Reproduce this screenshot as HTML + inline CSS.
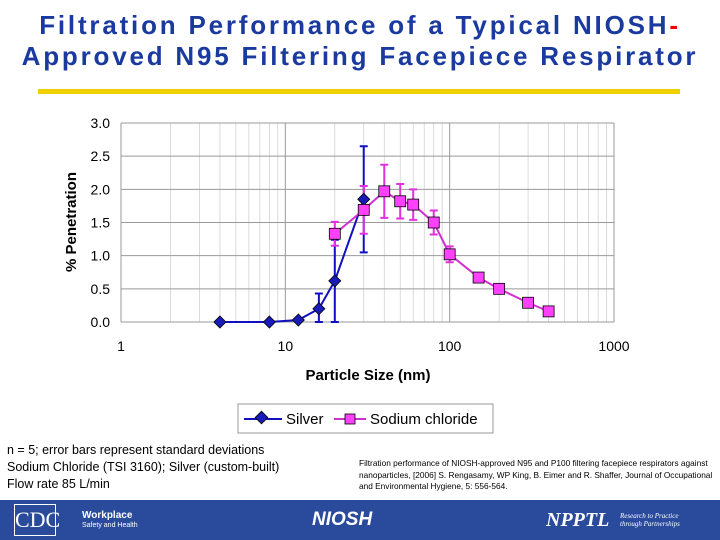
<!DOCTYPE html>
<html><head><meta charset="utf-8"><style>
body{margin:0;width:720px;height:540px;overflow:hidden;background:#fff;font-family:"Liberation Sans",Arial,sans-serif;position:relative}
.t{position:absolute;left:0;width:720px;text-align:center;font-weight:bold;font-size:26px;letter-spacing:2.8px;color:#1a3aa0;line-height:31px}
.abs{position:absolute}
</style></head><body>
<div class="t" style="top:10px">Filtration Performance of a Typical NIOSH<span style="color:#e00">-</span><br>Approved N95 Filtering Facepiece Respirator</div>
<div class="abs" style="left:38px;top:89px;width:642px;height:5px;background:#f0d000"></div>
<svg class="abs" style="left:0;top:0" width="720" height="500">
<g id="grid"></g><g id="series"></g>
<text x="76" y="222" transform="rotate(-90 76 222)" text-anchor="middle" font-size="15" font-weight="bold" font-family="Liberation Sans">% Penetration</text>
<text x="368" y="380" text-anchor="middle" font-size="15" font-weight="bold" font-family="Liberation Sans">Particle Size (nm)</text>
<g>
<rect x="238" y="404" width="255" height="29" fill="#fff" stroke="#999"/>
<line x1="244" y1="419" x2="282" y2="419" stroke="#1010c0" stroke-width="2"/>
<rect x="257" y="413" width="9" height="9" transform="rotate(45 261.5 417.5)" fill="#1a1ab8" stroke="#000" stroke-width="0.8"/>
<text x="286" y="424" font-size="15" font-family="Liberation Sans">Silver</text>
<line x1="334" y1="419" x2="366" y2="419" stroke="#d030d0" stroke-width="2"/>
<rect x="345" y="414" width="10" height="10" fill="#ff40ff" stroke="#000" stroke-width="0.8"/>
<text x="370" y="424" font-size="15" font-family="Liberation Sans">Sodium chloride</text>
</g>
</svg>
<div class="abs" style="left:7px;top:442px;font-size:12.5px;line-height:17px">n = 5; error bars represent standard deviations<br>Sodium Chloride (TSI 3160); Silver (custom-built)<br>Flow rate 85 L/min</div>
<div class="abs" style="left:359px;top:458px;width:358px;font-size:8.3px;line-height:11.5px">Filtration performance of NIOSH-approved N95 and P100 filtering facepiece respirators against nanoparticles, [2006] S. Rengasamy, WP King, B. Eimer and R. Shaffer, Journal of Occupational and Environmental Hygiene, 5: 556-564.</div>
<div class="abs" style="left:0;top:500px;width:720px;height:40px;background:#2a4a9c;color:#fff">
<div class="abs" style="left:14px;top:4px;width:40px;height:30px;border:1px solid #fff;font-family:'Liberation Serif';font-size:22px;line-height:30px;text-align:center">CDC</div>
<div class="abs" style="left:82px;top:11px;font-size:10px;font-weight:bold;line-height:9px">Workplace<br><span style="font-size:7px;font-weight:normal">Safety and Health</span></div>
<div class="abs" style="left:312px;top:9px;font-size:19px;font-weight:bold;font-style:italic">NIOSH</div>
<div class="abs" style="left:546px;top:9px;font-family:'Liberation Serif';font-size:20px;font-style:italic;font-weight:bold">NPPTL</div>
<div class="abs" style="left:620px;top:12px;font-family:'Liberation Serif';font-size:7px;font-style:italic;line-height:8px">Research to Practice<br>through Partnerships</div>
</div>
<script>
const silverX=[4,8,12,16,20,30];
const silverY=[0,0,0.03,0.2,0.62,1.85];
const silverErr=[0,0,0.02,0.23,0.62,0.8];
const naclX=[20,30,40,50,60,80,100,150,200,300,400];
const naclY=[1.33,1.69,1.97,1.82,1.77,1.5,1.02,0.67,0.5,0.29,0.16];
const naclErr=[0.18,0.36,0.4,0.26,0.23,0.18,0.12,0.05,0.05,0.02,0.02];
const yTicks=["0.0","0.5","1.0","1.5","2.0","2.5","3.0"];
const xTicks=[1,10,100,1000];
const X0=121,X1=614,Y0=322,Y1=123;
const sx=v=>X0+(X1-X0)*Math.log10(v)/3;
const sy=v=>Y0-(Y0-Y1)*v/3;
const NS="http://www.w3.org/2000/svg";
function mk(p,t,a){const e=document.createElementNS(NS,t);for(const k in a)e.setAttribute(k,a[k]);p.appendChild(e);return e;}
const g=document.getElementById('grid'),s=document.getElementById('series');
for(let d=1;d<1000;d*=10)for(let m=2;m<10;m++){const l=mk(g,'line',{x1:sx(d*m),x2:sx(d*m),y1:Y1,y2:Y0,stroke:'#ccc','stroke-width':0.7});

}
yTicks.forEach(t=>{const v=+t;const l=mk(g,'line',{x1:X0,x2:X1,y1:sy(v),y2:sy(v),stroke:'#999','stroke-width':1});


const tx=mk(g,'text',{x:X0-11,y:sy(v)+5,'text-anchor':'end','font-size':14,'font-family':'Liberation Sans'});tx.textContent=t;

});
xTicks.forEach(v=>{const l=mk(g,'line',{x1:sx(v),x2:sx(v),y1:Y1,y2:Y0,stroke:'#999','stroke-width':1});


const tx=mk(g,'text',{x:sx(v),y:351,'text-anchor':'middle','font-size':14,'font-family':'Liberation Sans'});tx.textContent=v;

});
function err(xs,ys,es,c){xs.forEach((x,i)=>{if(!es[i])return;const px=sx(x),lo=Math.max(0,ys[i]-es[i]),hi=ys[i]+es[i];
const e=mk(s,'path',{d:`M${px},${sy(lo)}V${sy(hi)}M${px-4},${sy(lo)}h8M${px-4},${sy(hi)}h8`,stroke:c,'stroke-width':2,fill:'none'});

});}
err(silverX,silverY,silverErr,'#1010c0');
err(naclX,naclY,naclErr,'#e030e0');
const l1=mk(s,'polyline',{points:silverX.map((x,i)=>sx(x)+','+sy(silverY[i])).join(' '),fill:'none',stroke:'#1010c0','stroke-width':2});


const l2=mk(s,'polyline',{points:naclX.map((x,i)=>sx(x)+','+sy(naclY[i])).join(' '),fill:'none',stroke:'#d030d0','stroke-width':2});


silverX.forEach((x,i)=>{const px=sx(x),py=sy(silverY[i]);const m=mk(s,'path',{d:`M${px},${py-6}L${px+6},${py}L${px},${py+6}L${px-6},${py}Z`,fill:'#1a1ab8',stroke:'#000','stroke-width':0.8});

});
naclX.forEach((x,i)=>{const px=sx(x),py=sy(naclY[i]);const m=mk(s,'rect',{x:px-5.5,y:py-5.5,width:11,height:11,fill:'#ff40ff',stroke:'#000','stroke-width':0.8});

});
</script>
</body></html>
